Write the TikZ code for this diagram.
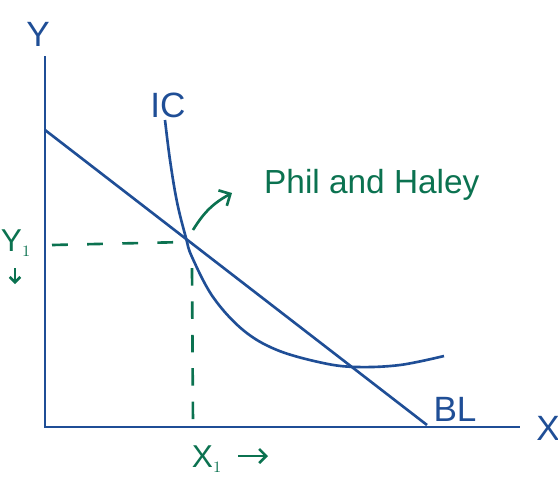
\documentclass[tikz,border=0pt]{standalone}
\usepackage{fontspec}
\setmainfont{Liberation Sans}
\usetikzlibrary{arrows.meta}
\definecolor{penblue}{HTML}{1F4E96}
\definecolor{pengreen}{HTML}{0B7250}
\tikzset{
  bluepen/.style={draw=penblue,line width=1.5pt},
  greenpen/.style={draw=pengreen,line width=1.5pt},
  bluetxt/.style={text=penblue,font=\fontsize{20}{22}\selectfont},
  greentxt/.style={text=pengreen,font=\fontsize{18}{20}\selectfont}
}
\begin{document}
\begin{tikzpicture}[x=0.02cm,y=-0.02cm]
			\useasboundingbox (0,0) rectangle (558,481);
			% axes
			\coordinate (o) at (45,427);
			\coordinate (ytop) at (45,56);
			\coordinate (xend) at (520,427);
			\draw[bluepen] (ytop) -- (o) -- (xend);
			\node[bluetxt] (ylab) at (38,34) {Y};
			\node[bluetxt] (xlab) at (548,428) {X};
			% budget line and indifference curve
			\coordinate (blstart) at (45,130);
			\coordinate (blend) at (427,425);
			\draw[bluepen] (blstart) -- (blend);
			\node[bluetxt] (bl) at (455,409) {BL};
			\draw[bluepen] plot[smooth,tension=0.6] coordinates {(165,120) (170,160) (177,202) (186,238) (192,257) (213,297) (243,330) (277,350) (323,363) (357,367) (400,365) (444,356)};
			\node[bluetxt] (ic) at (168,105) {IC};
			% optimum
			\coordinate (opt) at (186,242);
			\coordinate (yone) at (52,245);
			\coordinate (xone) at (193,425);
			\draw[greenpen,dash pattern=on 9pt off 11pt] (yone) -- (opt);
			\draw[greenpen,dash pattern=on 10pt off 9pt] (192,268) -- (xone);
			\node[greentxt] (ylabone) at (16,243) {Y$_{\scriptscriptstyle 1}$};
			\node[greentxt] (xlabone) at (207,459) {X$_{\scriptscriptstyle 1}$};
			\coordinate (ydn) at (15,268);
			\coordinate (ydnend) at (15,284);
			\draw[greenpen,-{Straight Barb[length=3pt]}] (ydn) -- (ydnend);
			\coordinate (xrt) at (238,456);
			\coordinate (xrtend) at (268,456);
			\draw[greenpen,-{Straight Barb[length=4pt]}] (xrt) -- (xrtend);
			% label for the optimum
			\node[greentxt,font=\fontsize{19}{21}\selectfont,anchor=west] (phil) at (258,185) {Phil and Haley};
			\draw[greenpen,-{Straight Barb[length=5pt]}] (193,230) to[bend left=15] (232,193);
\end{tikzpicture}
\end{document}
